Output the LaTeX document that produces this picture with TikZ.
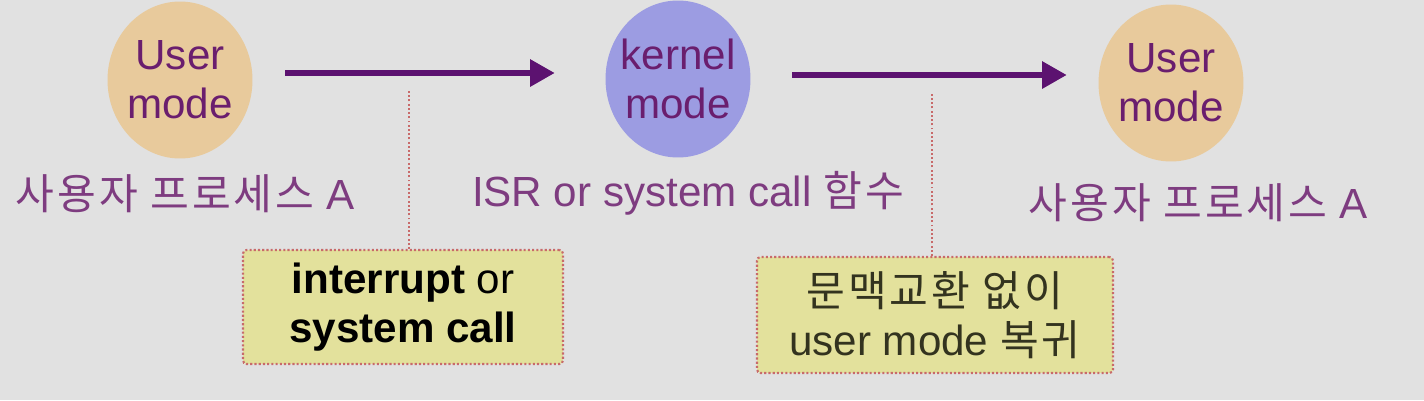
\documentclass[tikz,border=0pt]{standalone}
\usepackage{fontspec}
\setmainfont{Liberation Sans}
\newfontfamily\kr[LetterSpace=7]{Noto Sans CJK KR}
\usetikzlibrary{shapes.geometric,arrows.meta}
\definecolor{bgray}{HTML}{E1E1E1}
\definecolor{tan}{HTML}{E8CA9C}
\definecolor{lilac}{HTML}{9C9CE2}
\definecolor{plum}{HTML}{6A1E6E}
\definecolor{plumlight}{HTML}{7E3C80}
\definecolor{arrowplum}{HTML}{5C1270}
\definecolor{dotred}{HTML}{C86A6A}
\definecolor{notefill}{HTML}{E3E19C}
\definecolor{noteink}{HTML}{33331F}

\begin{document}
\begin{tikzpicture}[x=0.02cm, y=-0.02cm,
	mode/.style={ellipse, minimum width=2.9cm, minimum height=3.14cm, inner sep=0pt},
	modetext/.style={align=center, font=\fontsize{24}{28}\selectfont, text=plum},
	caption/.style={font=\fontsize{24}{28}\selectfont, text=plumlight},
	note/.style={draw=dotred, line width=1.2pt, dash pattern=on 1.2pt off 1.2pt, fill=notefill,
		rounded corners=2pt, align=center, inner sep=0pt, font=\fontsize{24}{28}\selectfont},
	flow/.style={arrowplum, line width=2.9pt, -{Triangle[length=14pt,width=15pt]}},
	tie/.style={dotred, line width=1.1pt, dash pattern=on 1.1pt off 1.3pt}]
	\fill[bgray] (0,0) rectangle (1424,400);
	\useasboundingbox (0,0) rectangle (1424,400);
	\node[mode, fill=tan] (user1) at (180,80) {};
	\node[mode, fill=lilac] (kernel) at (678,79) {};
	\node[mode, fill=tan] (user2) at (1171,83) {};
	\node[modetext] (user1txt) at (user1) {User\\mode};
	\node[modetext] (kerneltxt) at (kernel) {kernel\\mode};
	\node[modetext] (user2txt) at (user2) {User\\mode};
	\node[caption] (proc1) at (185,194) {{\kr 사용자 프로세스} A};
	\node[caption] (isr) at (688,193) {ISR or system call {\kr 함수}};
	\node[caption] (proc2) at (1198,203) {{\kr 사용자 프로세스} A};
	\node[note, minimum width=6.4cm, minimum height=2.28cm] (trap) at (403,307)
		{\textbf{interrupt} or\\\textbf{system call}};
	\node[note, minimum width=7.12cm, minimum height=2.32cm, text=noteink] (back) at (935,315)
		{{\kr 문맥교환 없이}\\user mode {\kr 복귀}};
	\coordinate (tip1) at (409,90);
	\coordinate (tip2) at (932,93);
	\draw[flow, shorten <=0.65cm, shorten >=1.01cm] ([yshift=0.14cm]user1.east) -- ([yshift=0.14cm]user1.east -| kernel.west);
	\draw[flow, shorten <=0.83cm, shorten >=0.63cm] ([yshift=0.08cm]kernel.east) -- ([yshift=0.08cm]kernel.east -| user2.west);
	\draw[tie] (trap.north -| tip1) -- (tip1);
	\draw[tie] (back.north -| tip2) -- (tip2);
\end{tikzpicture}
\end{document}
